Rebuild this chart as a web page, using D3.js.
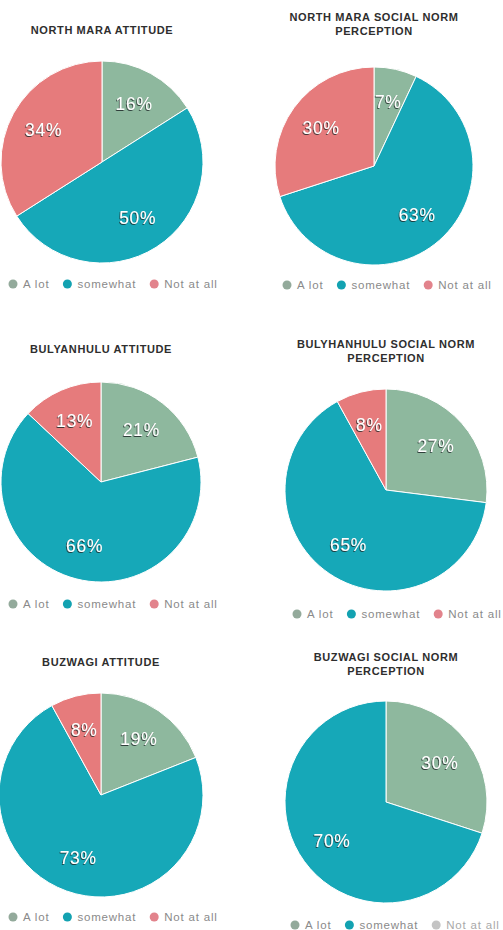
<!DOCTYPE html>
<html>
<head>
<meta charset="utf-8">
<script src="https://cdn.jsdelivr.net/npm/d3@7"></script>
<style>
  html, body { margin: 0; padding: 0; background: #ffffff; }
  svg { display: block; }
  .title { font-family: "Liberation Sans", Arial, sans-serif; font-weight: bold; font-size: 11px; fill: #2e2e2e; letter-spacing: 0.6px; }
  .legend-text { font-family: "Liberation Sans", Arial, sans-serif; font-size: 11.5px; fill: #8a8a8a; letter-spacing: 0.8px; }
  .pct { font-family: "Liberation Sans", Arial, sans-serif; font-size: 17.5px; fill: #ffffff; letter-spacing: 0.7px; }
</style>
</head>
<body>
<svg id="chart" width="503" height="930"></svg>
<script>
// Response categories, shared by every pie
const categories = ["A lot", "somewhat", "Not at all"];

// Percentages per site and question
const northMaraAttitude   = [16, 50, 34];
const northMaraNorm       = [7, 63, 30];
const bulyanhuluAttitude  = [21, 66, 13];
const bulyanhuluNorm      = [27, 65, 8];
const buzwagiAttitude     = [19, 73, 8];
const buzwagiNorm         = [30, 70, 0];

// Panel titles (one array entry per line)
const titles = [
  ["NORTH MARA ATTITUDE"],
  ["NORTH MARA SOCIAL NORM", "PERCEPTION"],
  ["BULYANHULU ATTITUDE"],
  ["BULYHANHULU SOCIAL NORM", "PERCEPTION"],
  ["BUZWAGI ATTITUDE"],
  ["BUZWAGI SOCIAL NORM", "PERCEPTION"]
];

const seriesList = [
  northMaraAttitude, northMaraNorm,
  bulyanhuluAttitude, bulyanhuluNorm,
  buzwagiAttitude, buzwagiNorm
];

// Placement of each panel: pie centre, radius, title baseline, legend row
const layout = [
  { cx: 102, cy: 162, r: 101, titleY: 30,  legendX: 13,  legendY: 284 },
  { cx: 374, cy: 166, r: 99,  titleY: 17,  legendX: 287, legendY: 285 },
  { cx: 101, cy: 482, r: 100, titleY: 349, legendX: 13,  legendY: 604 },
  { cx: 386, cy: 490, r: 101, titleY: 344, legendX: 297, legendY: 614 },
  { cx: 101, cy: 795, r: 102, titleY: 662, legendX: 13,  legendY: 917 },
  { cx: 386, cy: 802, r: 101, titleY: 657, legendX: 295, legendY: 925 }
];

const color = d3.scaleOrdinal()
  .domain(categories)
  .range(["#8eb89e", "#16a8b8", "#e67b7c"]);

const legendColor = d3.scaleOrdinal()
  .domain(categories)
  .range(["#93aa9b", "#13a2b1", "#e2838c"]);

const svg = d3.select("#chart");

// Soft dark shadow behind the percentage labels
const defs = svg.append("defs");
const shadow = defs.append("filter").attr("id", "lblShadow")
  .attr("x", "-20%").attr("y", "-30%").attr("width", "140%").attr("height", "160%");
shadow.append("feDropShadow")
  .attr("dx", -0.8).attr("dy", 1)
  .attr("stdDeviation", 0.7)
  .attr("flood-color", "#1f2a2a")
  .attr("flood-opacity", 0.85);

const pie = d3.pie().sort(null).value(d => d.value);

seriesList.forEach((values, i) => {
  const L = layout[i];
  const data = categories.map((c, k) => ({ category: c, value: values[k] }));
  const arcs = pie(data);

  const arc = d3.arc().innerRadius(0).outerRadius(L.r);
  const labelArc = d3.arc().innerRadius(L.r * 0.66).outerRadius(L.r * 0.66);

  // Title
  const t = svg.append("text")
    .attr("class", "title")
    .attr("x", L.cx)
    .attr("y", L.titleY)
    .attr("text-anchor", "middle")
    .attr("dominant-baseline", "central");
  titles[i].forEach((line, j) => {
    t.append("tspan").attr("x", L.cx).attr("dy", j === 0 ? 0 : 14).text(line);
  });

  // Slices
  const g = svg.append("g").attr("transform", `translate(${L.cx},${L.cy})`);
  g.selectAll("path")
    .data(arcs.filter(a => a.data.value > 0))
    .join("path")
    .attr("d", arc)
    .attr("fill", d => color(d.data.category))
    .attr("stroke", "#ffffff")
    .attr("stroke-width", 1);

  // Percentage labels
  g.selectAll("text.pct")
    .data(arcs.filter(a => a.data.value > 0))
    .join("text")
    .attr("class", "pct")
    .attr("filter", "url(#lblShadow)")
    .attr("transform", d => `translate(${labelArc.centroid(d)})`)
    .attr("text-anchor", "middle")
    .attr("dominant-baseline", "central")
    .text(d => d.data.value + "%");

  // Legend row
  const lg = svg.append("g").attr("transform", `translate(${L.legendX},${L.legendY})`);
  let x = 0;
  data.forEach(d => {
    const empty = d.value === 0;
    lg.append("circle")
      .attr("cx", x).attr("cy", 0).attr("r", 4.5)
      .attr("fill", empty ? "#c4c4c4" : legendColor(d.category));
    const txt = lg.append("text")
      .attr("class", "legend-text")
      .attr("x", x + 10)
      .attr("y", 0)
      .attr("dominant-baseline", "central")
      .style("fill", empty ? "#a9a9a9" : null)
      .text(d.category);
    x += 10 + txt.node().getComputedTextLength() + 18;
  });
});
</script>
</body>
</html>
